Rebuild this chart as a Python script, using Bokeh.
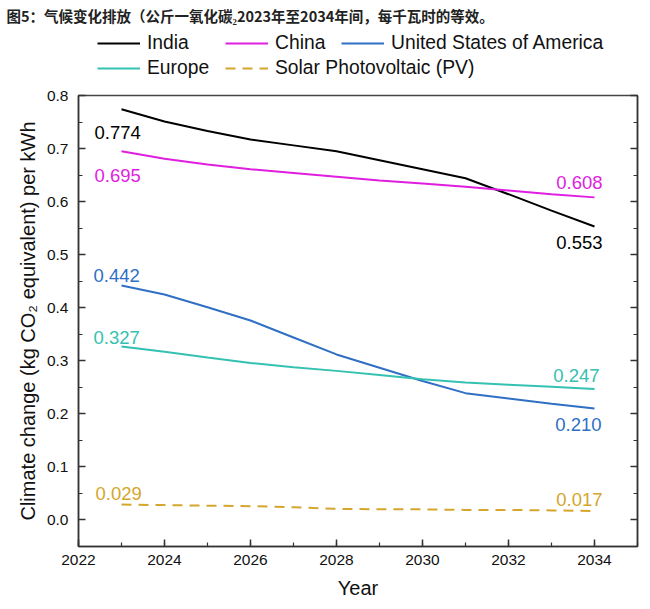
from bokeh.plotting import figure
from bokeh.layouts import column
from bokeh.models import (ColumnDataSource, Legend, LegendItem, LinearAxis, Title,
                          SingleIntervalTicker, NumeralTickFormatter, Range1d,
                          CustomJSTickFormatter)
from bokeh.embed import file_html
from bokeh.resources import INLINE
from bokeh.core.properties import value

# ---------------- data ----------------
years = [2023, 2024, 2025, 2026, 2027, 2028, 2029, 2030, 2031, 2032, 2033, 2034]
india = [0.774, 0.751, 0.733, 0.717, 0.706, 0.695, 0.678, 0.661, 0.644, 0.614, 0.583, 0.553]
china = [0.695, 0.681, 0.670, 0.661, 0.654, 0.647, 0.640, 0.634, 0.628, 0.621, 0.614, 0.608]
usa = [0.442, 0.425, 0.401, 0.376, 0.344, 0.312, 0.287, 0.262, 0.239, 0.229, 0.219, 0.210]
europe = [0.327, 0.317, 0.306, 0.296, 0.288, 0.281, 0.273, 0.265, 0.259, 0.255, 0.251, 0.247]
solar_pv = [0.029, 0.028, 0.027, 0.026, 0.024, 0.021, 0.020, 0.020, 0.019, 0.019, 0.018, 0.017]

series_names = ["India", "China", "United States of America", "Europe", "Solar Photovoltaic (PV)"]
series_values = [india, china, usa, europe, solar_pv]

title_text = "图5：气候变化排放（公斤一氧化碳₂2023年至2034年间，每千瓦时的等效。"
x_label = "Year"
y_label = "Climate change (kg CO₂ equivalent) per kWh"

# ---------------- styles / layout ----------------
colors = ["#000000", "#e01ee0", "#2f6fc4", "#35c1b1", "#d4a62c"]
dashes = ["solid", "solid", "solid", "solid", "10 7"]
FONT = "Liberation Sans"

W, H = 650, 609
HEAD = 82                           # header strip (title + legend)
FL, FR, FT, FB = 78, 637, 95, 546   # plot frame in window pixels
X0, X1 = 2022, 2035
Y0, Y1 = -0.05, 0.8

# ---------- header: title and legend ----------
head = figure(width=W, height=HEAD, output_backend="svg", toolbar_location=None,
              x_range=Range1d(0, 1), y_range=Range1d(0, 1), title_location=None,
              x_axis_location=None, y_axis_location=None,
              min_border_left=FL, min_border_right=W - FR, min_border_top=0,
              min_border_bottom=0)
head.xgrid.visible = False
head.ygrid.visible = False
head.outline_line_color = None
head.background_fill_color = "white"
head.border_fill_color = "white"

head.add_layout(Title(text=title_text, text_font="Noto Sans CJK SC", text_font_style="bold",
                      text_font_size="14.5px", text_color="#222222", align="left",
                      offset=6 - FL, standoff=5), "above")

key_renderers = []
for c, d in zip(colors, dashes):
    key_renderers.append(head.line(x=[-5, -4], y=[-5, -4], line_color=c, line_width=2,
                                   line_dash=d))

legend_slots = [(97, 44), (225, 44), (341, 44), (97, 69), (225, 69)]
for name, r, (sx, sy) in zip(series_names, key_renderers, legend_slots):
    head.add_layout(Legend(items=[LegendItem(label=name, renderers=[r])],
                           location=(sx - FL, HEAD - sy - 10), orientation="horizontal",
                           padding=0, margin=0, spacing=0, glyph_width=43, glyph_height=20,
                           label_height=20, label_standoff=7, label_text_font=FONT,
                           label_text_font_size="19.3px", label_text_color="#111111",
                           border_line_color=None, background_fill_alpha=0))

# ---------- main chart ----------
p = figure(width=W, height=H - HEAD, output_backend="svg", toolbar_location=None,
           x_range=Range1d(X0, X1), y_range=Range1d(Y0, Y1), title_location=None,
           min_border_left=FL, min_border_right=W - FR,
           min_border_top=FT - HEAD, min_border_bottom=H - FB)
p.xgrid.visible = False
p.ygrid.visible = False
p.background_fill_color = "white"
p.border_fill_color = "white"
p.outline_line_color = "#444444"
p.outline_line_width = 1.5

axis_color = "#333333"


def style_axis(ax):
    ax.axis_line_color = axis_color
    ax.axis_line_width = 1.5
    ax.major_tick_line_color = axis_color
    ax.minor_tick_line_color = axis_color
    ax.major_tick_line_width = 1.5
    ax.minor_tick_line_width = 1.2
    ax.major_tick_in = 7
    ax.major_tick_out = 0
    ax.minor_tick_in = 4
    ax.minor_tick_out = 0
    ax.major_label_text_font = FONT
    ax.major_label_text_font_size = "15.5px"
    ax.major_label_text_color = "#111111"
    ax.axis_label_text_font = FONT
    ax.axis_label_text_font_size = "20px"
    ax.axis_label_text_font_style = "normal"
    ax.axis_label_text_color = "#111111"


p.xaxis.ticker = SingleIntervalTicker(interval=2, num_minor_ticks=2)
p.yaxis.ticker = SingleIntervalTicker(interval=0.1, num_minor_ticks=2)
p.yaxis.formatter = NumeralTickFormatter(format="0.0")
p.xaxis.axis_label = x_label
p.yaxis.axis_label = y_label
style_axis(p.xaxis[0])
style_axis(p.yaxis[0])
p.xaxis.major_label_standoff = 8
p.yaxis.major_label_standoff = 10
p.xaxis.axis_label_standoff = 9
p.yaxis.axis_label_standoff = 5

right = LinearAxis(ticker=SingleIntervalTicker(interval=0.1, num_minor_ticks=2),
                   formatter=CustomJSTickFormatter(code="return ''"))
style_axis(right)
right.major_label_standoff = 0
p.add_layout(right, "right")

for vals, c, d in zip(series_values, colors, dashes):
    src = ColumnDataSource(dict(x=years, y=vals))
    p.line("x", "y", source=src, line_color=c, line_width=2, line_dash=d)

# value labels at the first and last year
label_offsets_start = [(-27, 23), (-27, 24.5), (-28, -10), (-28, -9), (-26, -11)]
label_offsets_end = [(8, 15.5), (8, -14.5), (7, 16), (5, -13), (8, -11)]
lx, ly, lt, lc, lxo, lyo, la = [], [], [], [], [], [], []
for i, vals in enumerate(series_values):
    lx.append(years[0]); ly.append(vals[0]); lt.append(f"{vals[0]:.3f}"); lc.append(colors[i])
    lxo.append(label_offsets_start[i][0]); lyo.append(label_offsets_start[i][1]); la.append("left")
    lx.append(years[-1]); ly.append(vals[-1]); lt.append(f"{vals[-1]:.3f}"); lc.append(colors[i])
    lxo.append(label_offsets_end[i][0]); lyo.append(label_offsets_end[i][1]); la.append("right")
lsrc = ColumnDataSource(dict(x=lx, y=ly, text=lt, color=lc, xo=lxo, yo=lyo, align=la))
p.text("x", "y", text="text", source=lsrc, text_color="color", x_offset="xo", y_offset="yo",
       text_align="align", text_baseline="middle", text_font=value(FONT), text_font_size="18.5px")

layout = column(head, p, spacing=0)
open("out.html", "w").write(file_html(layout, INLINE))
